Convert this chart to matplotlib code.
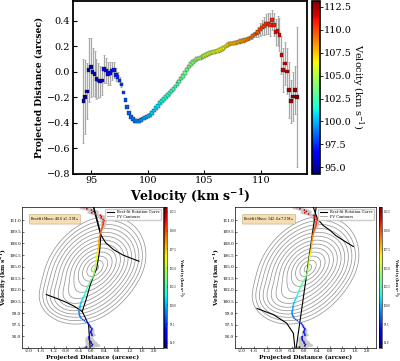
import numpy as np
import matplotlib
matplotlib.use("Agg")
import matplotlib.pyplot as plt
from matplotlib.lines import Line2D

plt.rcParams['font.family'] = ['DejaVu Serif']
plt.rcParams['mathtext.fontset'] = 'dejavuserif'

# ---------------- data ----------------
velocity = [94.32, 94.47, 94.62, 94.78, 94.96, 95.13, 95.30, 95.47, 95.64, 95.81,
            95.98, 96.15, 96.32, 96.49, 96.66, 96.83, 97.00, 97.17, 97.34, 97.51,
            97.68, 97.85, 98.02, 98.19, 98.36, 98.53, 98.70, 98.87, 99.04, 99.21,
            99.38, 99.55, 99.72, 99.89, 100.06, 100.23, 100.40, 100.57, 100.74, 100.91,
            101.08, 101.25, 101.42, 101.59, 101.76, 101.93, 102.10, 102.27, 102.44, 102.61,
            102.78, 102.95, 103.12, 103.29, 103.46, 103.63, 103.80, 103.97, 104.14, 104.31,
            104.48, 104.65, 104.82, 104.99, 105.16, 105.33, 105.50, 105.67, 105.84, 106.01,
            106.18, 106.35, 106.52, 106.69, 106.86, 107.03, 107.20, 107.37, 107.54, 107.71,
            107.88, 108.05, 108.22, 108.39, 108.56, 108.73, 108.90, 109.07, 109.24, 109.41,
            109.58, 109.75, 109.92, 110.09, 110.26, 110.43, 110.60, 110.77, 110.94, 111.11,
            111.28, 111.45, 111.62, 111.79, 111.96, 112.13, 112.30, 112.47, 112.64, 112.81,
            112.98, 113.15]
distance = [-0.230, -0.200, -0.155, 0.013, 0.034, -0.005, -0.018, -0.057, -0.070, -0.078,
            -0.070, 0.020, 0.008, -0.018, -0.013, 0.008, 0.013, -0.024, -0.044, -0.070,
            -0.100, -0.165, -0.225, -0.277, -0.325, -0.355, -0.373, -0.385, -0.390, -0.392,
            -0.378, -0.368, -0.363, -0.358, -0.350, -0.338, -0.325, -0.305, -0.287, -0.268,
            -0.248, -0.230, -0.214, -0.198, -0.184, -0.168, -0.152, -0.135, -0.117, -0.097,
            -0.077, -0.055, -0.032, -0.008, 0.017, 0.040, 0.060, 0.076, 0.088, 0.097,
            0.103, 0.108, 0.116, 0.125, 0.133, 0.140, 0.146, 0.150, 0.154, 0.158,
            0.163, 0.170, 0.178, 0.187, 0.197, 0.207, 0.215, 0.220, 0.222, 0.226,
            0.230, 0.235, 0.239, 0.243, 0.248, 0.253, 0.260, 0.268, 0.278, 0.292,
            0.300, 0.312, 0.330, 0.348, 0.360, 0.374, 0.379, 0.369, 0.405, 0.369,
            0.310, 0.320, 0.290, 0.130, 0.013, 0.065, 0.002, -0.143, -0.233, -0.196,
            -0.143, -0.200]
dist_err = [0.33, 0.29, 0.22, 0.25, 0.23, 0.19, 0.18, 0.16, 0.14, 0.12,
            0.11, 0.11, 0.10, 0.09, 0.09, 0.07, 0.06, 0.05, 0.04, 0.03,
            0.02, 0.0, 0.0, 0.0, 0.0, 0.0, 0.0, 0.0, 0.0, 0.0,
            0.0, 0.0, 0.0, 0.0, 0.0, 0.0, 0.0, 0.0, 0.0, 0.0,
            0.0, 0.0, 0.0, 0.0, 0.0, 0.0, 0.0, 0.0, 0.0, 0.0,
            0.0, 0.0, 0.0, 0.0, 0.0, 0.0, 0.0, 0.0, 0.0, 0.0,
            0.0, 0.0, 0.0, 0.0, 0.0, 0.0, 0.0, 0.0, 0.0, 0.0,
            0.0, 0.0, 0.0, 0.0, 0.0, 0.0, 0.0, 0.0, 0.0, 0.0,
            0.0, 0.0, 0.0, 0.0, 0.0, 0.0, 0.01, 0.01, 0.02, 0.02,
            0.03, 0.04, 0.05, 0.06, 0.07, 0.08, 0.08, 0.09, 0.08, 0.09,
            0.10, 0.12, 0.13, 0.15, 0.17, 0.17, 0.18, 0.22, 0.17, 0.19,
            0.19, 0.55]

# best-fit rotation curves (left / right PV panels)
left_upper_x = [0.07, 0.15, 0.22, 0.30, 0.45, 0.70, 1.00, 1.25, 1.51]
left_upper_v = [112.7, 111.3, 110.2, 109.1, 108.1, 107.2, 106.5, 106.1, 105.7]
left_mid_x = [0.07, 0.20, 0.30, 0.26, 0.17, 0.05, -0.04, -0.15, -0.29]
left_mid_v = [112.7, 110.8, 109.1, 107.0, 104.8, 103.6, 102.6, 101.0, 99.2]
left_lower_x = [-1.43, -1.10, -0.80, -0.55, -0.29, -0.18, -0.09, -0.04]
left_lower_v = [101.4, 100.9, 100.4, 99.9, 99.2, 98.3, 97.5, 94.5]

right_line_x = [-0.26, 0.37]
right_line_v = [94.5, 112.6]
right_upper_x = [0.28, 0.41, 0.60, 0.81, 1.00, 1.23, 1.55]
right_upper_v = [112.7, 111.2, 110.3, 109.7, 109.0, 108.4, 107.6]
right_lower_x = [-1.50, -0.98, -0.56, -0.35, -0.30]
right_lower_v = [99.6, 98.8, 97.7, 96.4, 94.5]

mass_labels = [r"Best-fit Mass: 40.6$\pm$1.3 M$_\odot$",
               r"Best-fit Mass: 142.6$\pm$7.3 M$_\odot$"]

# PV emission model components (position, velocity, widths, correlation, amplitude)
comp_x = [0.05, -0.75, 0.80]
comp_v = [104.6, 100.8, 106.2]
comp_sx = [0.70, 0.45, 0.45]
comp_sv = [3.0, 1.3, 1.8]
comp_rho = [0.30, 0.0, 0.0]
comp_amp = [1.0, 0.20, 0.14]

bottom_xticks = [-2.0, -1.6, -1.2, -0.8, -0.4, 0.0, 0.4, 0.8, 1.2, 1.6, 2.0]
bottom_yticks = [96.0, 97.5, 99.0, 100.5, 102.0, 103.5, 105.0, 106.5, 108.0, 109.5, 111.0]
cbar_ticks = [95.0, 97.5, 100.0, 102.5, 105.0, 107.5, 110.0, 112.5]

# ---------------- figure ----------------
fig = plt.figure(figsize=(4.0, 3.61), dpi=100)
W, H = 400.0, 361.0

def box(x0, y0, x1, y1):
    return [x0 / W, 1 - y1 / H, (x1 - x0) / W, (y1 - y0) / H]

v = np.array(velocity)
d = np.array(distance)
e = np.array(dist_err)
vmin, vmax = min(velocity), max(velocity)
cmap = plt.get_cmap('jet')

# ---- top panel ----
ax = fig.add_axes(box(73, 1, 307, 173.5))
ax.errorbar(v, d, yerr=e, fmt='none', ecolor='#a8a8a8', elinewidth=0.9,
            capsize=1.0, capthick=0.6, zorder=1)
sc = ax.scatter(v, d, c=v, cmap=cmap, vmin=vmin, vmax=vmax, marker='s', s=7,
                edgecolors='#202020', linewidths=0.25, zorder=3)
ax.set_xlim(93.4, 114.05)
ax.set_ylim(-0.8, 0.555)
ax.set_yticks([-0.8, -0.6, -0.4, -0.2, 0.0, 0.2, 0.4])
ax.set_xticks([95, 100, 105, 110])
ax.tick_params(direction='in', length=3, width=0.8, labelsize=7, pad=2)
for s in ax.spines.values():
    s.set_linewidth(1.3)
ax.set_xlabel(r"Velocity (km s$^{\mathbf{-1}}$)", fontsize=9, fontweight='bold', labelpad=1)
ax.set_ylabel("Projected Distance (arcsec)", fontsize=6.6, fontweight='bold', labelpad=2)

cax = fig.add_axes(box(312, 1, 320, 173.5))
cb = fig.colorbar(sc, cax=cax)
cb.set_ticks(cbar_ticks)
cb.ax.tick_params(labelsize=7, length=2, width=0.6, pad=1)
cb.outline.set_linewidth(1.2)
cb.set_label(r"Velocity (km s$^{-1}$)", fontsize=7, rotation=270, labelpad=10)

# ---- PV model field ----
gx = np.linspace(-2.3, 2.4, 260)
gv = np.linspace(94.0, 113.0, 260)
GX, GV = np.meshgrid(gx, gv)
field = np.zeros_like(GX)
for cx, cv, sx, sv, rho, am in zip(comp_x, comp_v, comp_sx, comp_sv, comp_rho, comp_amp):
    ux = (GX - cx) / sx
    uv = (GV - cv) / sv
    q = (ux ** 2 - 2 * rho * ux * uv + uv ** 2) / (1 - rho ** 2)
    field += am * np.exp(-0.5 * q)
field /= field.max()
levels = np.exp(-0.5 * (np.linspace(2.3, 0.15, 13)) ** 2)

def pv_panel(rect, crect, curves, label, cb_label_x):
    a = fig.add_axes(rect)
    a.contour(GX, GV, field, levels=levels, colors='#969696', linewidths=0.55)
    a.fill_betweenx(v, d - e, d + e, color='#c8c8c8', lw=0, zorder=2)
    for cx, cv in curves:
        a.plot(cx, cv, color='black', lw=0.8, zorder=3)
    s2 = a.scatter(d, v, c=v, cmap=cmap, vmin=vmin, vmax=vmax, s=1.5,
                   linewidths=0, zorder=4)
    a.set_xlim(-2.2, 2.27)
    a.set_ylim(94.5, 112.7)
    a.set_xticks(bottom_xticks)
    a.set_yticks(bottom_yticks)
    a.set_xticklabels([f"{t:.1f}" for t in bottom_xticks])
    a.set_yticklabels([f"{t:.1f}" for t in bottom_yticks])
    a.tick_params(direction='in', length=1.5, width=0.4, labelsize=3.0, pad=0.8)
    for s in a.spines.values():
        s.set_linewidth(0.5)
    a.set_xlabel("Projected Distance (arcsec)", fontsize=4.3, fontweight='bold', labelpad=1)
    a.set_ylabel(r"Velocity (km s$^{\mathbf{-1}}$)", fontsize=4.2, fontweight='bold', labelpad=0.3)
    handles = [Line2D([], [], color='black', lw=0.8),
               Line2D([], [], color='#969696', lw=0.55)]
    a.legend(handles, ["Best-fit Rotation Curve", "PV Contours"], loc='upper right',
             fontsize=2.6, frameon=True, framealpha=1, borderpad=0.3,
             handlelength=2.2, labelspacing=0.2, edgecolor='#cccccc')
    a.text(0.06, 0.94, label, transform=a.transAxes, fontsize=2.4, va='top',
           bbox=dict(boxstyle='round,pad=0.3', facecolor='wheat', edgecolor='#b09060', lw=0.3))
    c = fig.add_axes(crect)
    cbb = fig.colorbar(s2, cax=c)
    cbb.set_ticks(cbar_ticks)
    cbb.ax.tick_params(labelsize=1.8, length=1, width=0.3, pad=0.4)
    cbb.outline.set_linewidth(0.4)
    cbb.set_label(r"Velocity (km s$^{\mathbf{-1}}$)", fontsize=2.8, fontweight='bold',
                  rotation=270, va='center', ha='center')
    cbb.ax.yaxis.set_label_coords(cb_label_x, 0.5)

pv_panel(box(22, 207, 163, 348), box(164, 207, 167.5, 348),
         [(left_upper_x, left_upper_v), (left_mid_x, left_mid_v),
          (left_lower_x, left_lower_v)], mass_labels[0], 4.7)
pv_panel(box(235, 207, 376, 348), box(378.5, 207, 382, 348),
         [(right_line_x, right_line_v), (right_upper_x, right_upper_v),
          (right_lower_x, right_lower_v)], mass_labels[1], 4.7)

fig.savefig("out.png", dpi=100)
